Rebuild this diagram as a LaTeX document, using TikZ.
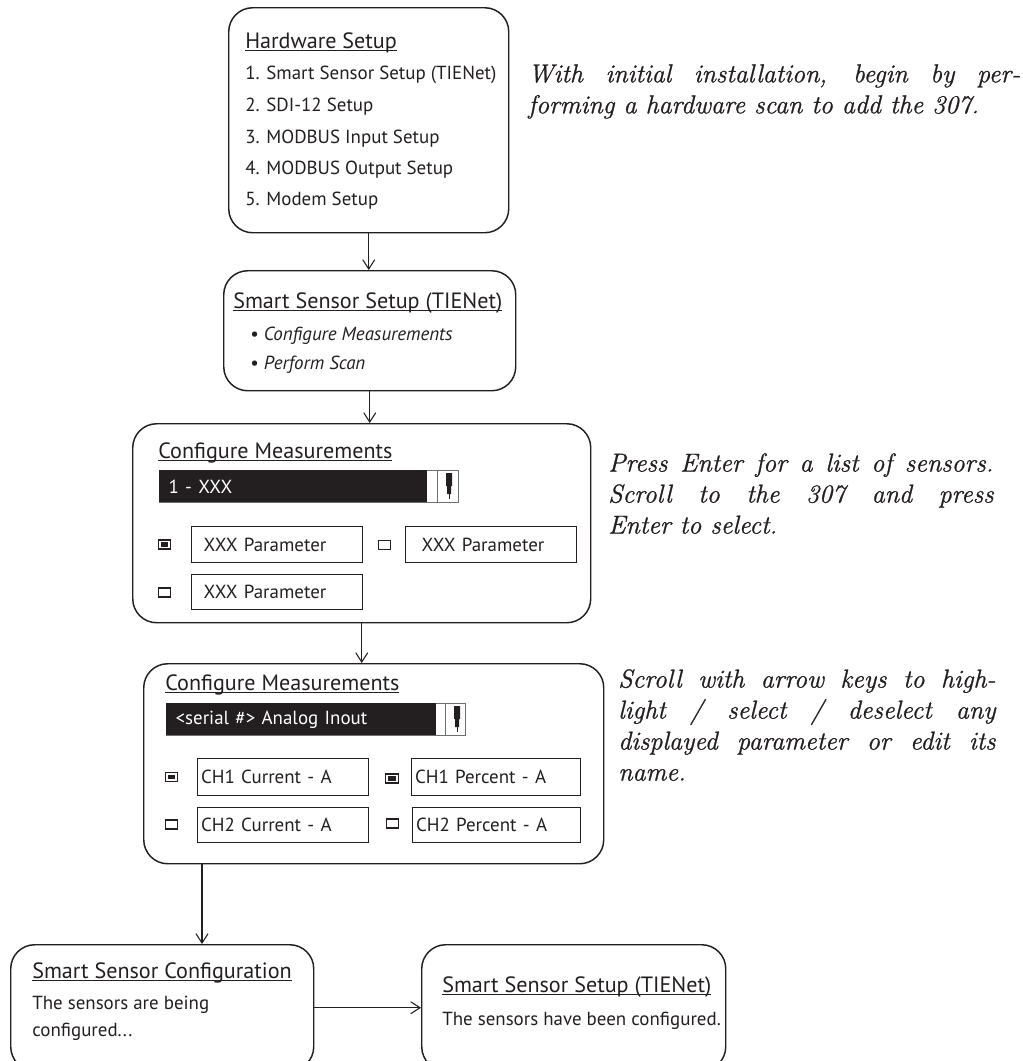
\documentclass[tikz,border=0pt]{standalone}
\usepackage{fontspec}
\setsansfont{PT Sans}
\newfontfamily\notefont{Latin Modern Roman}[ItalicFeatures={FakeBold=0.9}]
\usetikzlibrary{arrows.meta,calc}
\definecolor{ink}{HTML}{231F20}
\definecolor{rim}{HTML}{6D6E71}
% underlined screen title, rule sits just under the baseline
\newcommand{\scrtitle}[1]{\setbox0\hbox{#1}\rlap{\rule[-2.4pt]{\wd0}{0.6pt}}\box0}
\newcommand{\uifont}{\sffamily\fontsize{14.2}{17}\selectfont}
\newcommand{\ttlfont}{\sffamily\fontsize{16.6}{19}\selectfont}
\tikzset{
  every node/.style={text=ink},
  screen/.style={draw=ink, rounded corners=18pt, line width=1.1pt, anchor=north west, inner sep=0pt},
  lbl/.style={anchor=base west, inner sep=0pt, font=\uifont},
  ttl/.style={lbl, font=\ttlfont},
  param/.style={draw=ink, line width=1pt, anchor=north west, inner ysep=0pt, inner xsep=#1, align=left, font=\uifont},
  bar/.style={fill=ink, text=white, anchor=north west, inner ysep=0pt, inner xsep=#1, align=left, font=\uifont},
  chk/.style={draw=ink, line width=0.9pt, minimum width=9.2pt, minimum height=6.8pt, inner sep=0pt},
  chkon/.style={chk, path picture={\fill[ink] ([shift={(1.8pt,1.8pt)}]path picture bounding box.south west)
                  rectangle ([shift={(-1.8pt,-1.8pt)}]path picture bounding box.north east);}},
  note/.style={anchor=north west, inner sep=0pt, align=justify, font=\notefont\itshape\fontsize{19.5}{23.25}\selectfont},
  arr/.style={-{Straight Barb[length=7pt,width=9pt]}, line width=0.8pt, color=ink},
}

\begin{document}
\begin{tikzpicture}[x=0.75pt,y=-0.75pt]
  \useasboundingbox (0,0) rectangle (1023,1061);

  % hardware menu
  \node[screen, minimum width=210pt, minimum height=168.75pt] (hw) at (228,7) {};
  \node[ttl] (hwt) at (245,48) {\scrtitle{Hardware Setup}};
  \node[lbl] (hw1) at (245,79) {1. Smart Sensor Setup (TIENet)};
  \node[lbl] (hw2) at (245,111) {2. SDI-12 Setup};
  \node[lbl] (hw3) at (245,143) {3. MODBUS Input Setup};
  \node[lbl] (hw4) at (245,174) {4. MODBUS Output Setup};
  \node[lbl] (hw5) at (245,205) {5. Modem Setup};

  % TIENet menu
  \node[screen, minimum width=219pt, minimum height=90pt] (sss) at (223,270) {};
  \node[ttl] (ssst) at (233,308) {\scrtitle{Smart Sensor Setup (TIENet)}};
  \node[lbl] (sss1) at (250,340) {\textbullet\ \itshape Configure Measurements};
  \node[lbl] (sss2) at (250,369) {\textbullet\ \itshape Perform Scan};

  % first measurement screen
  \node[screen, minimum width=343.5pt, minimum height=149.25pt] (cm) at (132,423) {};
  \node[ttl] (cmt) at (158,458) {\scrtitle{Configure Measurements}};
  \draw[rim, line width=0.6pt] (159,470) rectangle (458,502);
  \node[bar=7pt, text width=187pt, minimum height=24pt] (cmbar) at (159,470) {1 - XXX};
  \draw[rim, line width=0.6pt] (437,470) -- (437,502);
  \fill[ink] (446,473) rectangle (452,486) (447,486) rectangle (451,494);
  \draw[ink, line width=0.6pt] (449,494) -- (449,499);
  \node[chkon] (cmc1) at (164.5,544.5) {};
  \node[param=9pt, text width=110pt, minimum height=27pt] (cmp1) at (191,526) {XXX Parameter};
  \node[chk] (cmc2) at (384.5,545) {};
  \node[param=12pt, text width=104pt, minimum height=27pt] (cmp2) at (405,526) {XXX Parameter};
  \node[chk] (cmc3) at (164.5,592.5) {};
  \node[param=9pt, text width=110pt, minimum height=26.25pt] (cmp3) at (191,574) {XXX Parameter};

  % second measurement screen
  \node[screen, minimum width=345pt, minimum height=150pt] (cmb) at (143,663) {};
  \node[ttl] (cmbt) at (165,690) {\scrtitle{Configure Measurements}};
  \draw[rim, line width=0.6pt] (166,703) rectangle (465,735);
  \node[bar=7pt, text width=188pt, minimum height=24pt] (cmbbar) at (166,703) {<serial \#> Analog Inout};
  \draw[rim, line width=0.6pt] (445,703) -- (445,735);
  \fill[ink] (454,706) rectangle (460,719) (455,719) rectangle (459,727);
  \draw[ink, line width=0.6pt] (457,727) -- (457,732);
  \node[chkon] (cmbc1) at (171.5,777) {};
  \node[param=2.5pt, text width=123pt, minimum height=27.75pt] (cmbp1) at (197,758) {CH1 Current - A};
  \node[chkon] (cmbc2) at (392,778.5) {};
  \node[param=2.5pt, text width=121.5pt, minimum height=27.75pt] (cmbp2) at (411,758) {CH1 Percent - A};
  \node[chk] (cmbc3) at (171.5,824.5) {};
  \node[param=2.5pt, text width=123pt, minimum height=26.25pt] (cmbp3) at (197,807) {CH2 Current - A};
  \node[chk] (cmbc4) at (392.5,823.5) {};
  \node[param=2.5pt, text width=120.75pt, minimum height=26.25pt] (cmbp4) at (412,807) {CH2 Percent - A};

  % configuration result screens
  \node[screen, minimum width=227.25pt, minimum height=94.5pt] (cfg) at (10,944) {};
  \node[ttl] (cfgt) at (32,978) {\scrtitle{Smart Sensor Configuration}};
  \node[lbl] (cfg1) at (32,1009) {The sensors are being};
  \node[lbl] (cfg2) at (32,1036) {configured...};
  \node[screen, minimum width=228pt, minimum height=94.5pt] (done) at (421,944) {};
  \node[ttl] (donet) at (442,992) {\scrtitle{Smart Sensor Setup (TIENet)}};
  \node[lbl] (done1) at (442,1025) {The sensors have been configured.};

  % flow
  \draw[arr] (hw.south) -- (hw.south |- sss.north);
  \draw[arr] (sss.south) -- (sss.south |- cm.north);
  \draw[arr] (cm.south) -- (cm.south |- cmb.north);
  \coordinate (fork) at ($(cmb.south west)+(59,0)$);
  \draw[arr] (fork) -- (fork |- cfg.north);
  \draw[arr] (cfg.east) -- (done.west);

  % side notes
  \node[note, text width=369pt] (n1) at (528,64) {\parfillskip=0pt With initial installation, begin by per-\linebreak forming a hardware scan to add the 307.};
  \node[note, text width=289pt] (n2) at (608,453) {Press Enter for a list of sensors.\linebreak Scroll to the 307 and press\linebreak Enter to select.};
  \node[note, text width=283pt] (n3) at (618,669) {Scroll with arrow keys to high-\linebreak light / select / deselect any\linebreak displayed parameter or edit its\linebreak name.};
\end{tikzpicture}
\end{document}
